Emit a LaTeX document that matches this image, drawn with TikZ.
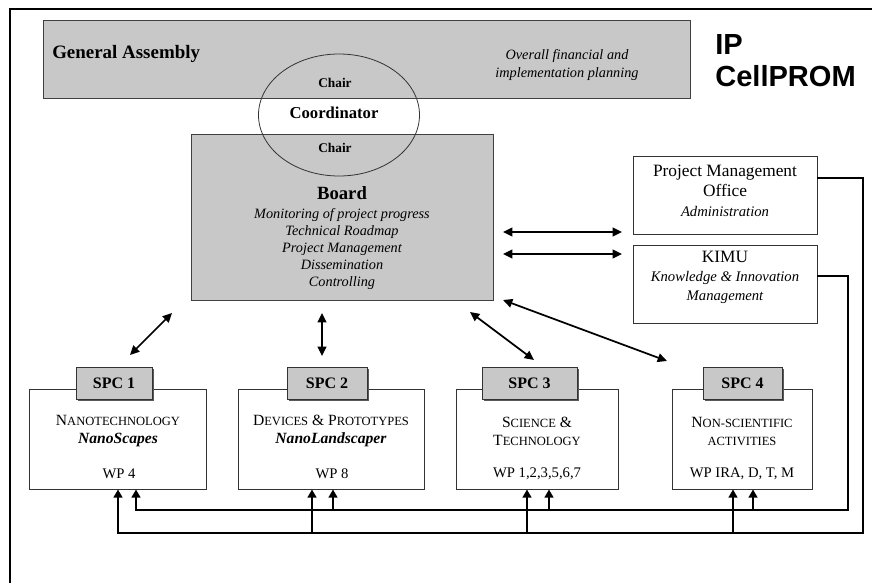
\documentclass[tikz,border=0pt]{standalone}
\usepackage{fontspec}
\setmainfont{Liberation Serif}
\newfontfamily\arialfont{Liberation Sans}
\usetikzlibrary{arrows.meta,shapes.geometric,fit,shadows}
\definecolor{boxgray}{RGB}{200,200,200}
\newcommand{\mysc}[2]{#1{\fontsize{9.4}{11}\selectfont\MakeUppercase{#2}}}
\begin{document}
\begin{tikzpicture}[x=0.75pt,y=-0.75pt,
  graybox/.style={draw=black!75,fill=boxgray,line width=0.75pt,inner sep=0pt},
  whitebox/.style={draw=black!80,fill=white,line width=0.75pt,inner sep=0pt},
  hdrbox/.style={draw=black!80,fill=boxgray,line width=0.75pt,inner sep=0pt,
    drop shadow={shadow xshift=1.6pt,shadow yshift=-1.6pt,fill=black!65,opacity=1}},
  hdrtxt/.style={font=\fontsize{12}{14}\selectfont\bfseries,inner sep=0pt},
  spctxt/.style={align=center,inner sep=0pt,font=\fontsize{11.7}{13.5}\selectfont},
  wptxt/.style={inner sep=0pt,font=\fontsize{11}{13}\selectfont},
  dbl/.style={line width=1.3pt,{Triangle[length=7pt,width=6.5pt]}-{Triangle[length=7pt,width=6.5pt]}},
  conn/.style={line width=1.5pt},
  uparr/.style={line width=1.5pt,-{Triangle[length=6pt,width=6.5pt]}},
  frameline/.style={line width=1.5pt}
]
\useasboundingbox (0,0) rectangle (872,583);
% frame
\draw[frameline] (872,9) -- (10,9) -- (10,583);

% General Assembly
\node[graybox, fit={(43,20)(690,98)}] (ga) {};
\node[anchor=west,inner sep=0pt,font=\fontsize{14.2}{16}\selectfont\bfseries] (gatitle) at (52,54) {General Assembly};
\node[align=center,inner sep=0pt,font=\fontsize{10.7}{13.5}\selectfont\itshape] (gaplan) at (567,65) {Overall financial and\\implementation planning};

% IP CellPROM
\node[anchor=west,align=left,inner sep=0pt,font=\arialfont\bfseries\fontsize{21.8}{24}\selectfont] (ip) at (715,61) {IP\\CellPROM};

% Board
\node[graybox, fit={(191,134)(493,300)}] (board) {};
\node[align=center,inner sep=0pt,font=\fontsize{10.7}{12.75}\selectfont\itshape] (boardtxt) at (342,238)
  {{\upshape\bfseries\fontsize{14}{17}\selectfont Board}\\[1pt]
   Monitoring of project progress\\Technical Roadmap\\Project Management\\Dissemination\\Controlling};

% Coordinator ellipse
\node[draw=black!80,line width=0.6pt,ellipse,inner sep=0pt,minimum width=161*0.75pt,minimum height=122*0.75pt] (coordell) at (339,115) {};
\node[inner sep=0pt,font=\fontsize{10}{12}\selectfont\bfseries] (chair1) at (335,83) {Chair};
\node[inner sep=0pt,font=\fontsize{12.5}{14}\selectfont\bfseries] (coordtxt) at (334,113) {Coordinator};
\node[inner sep=0pt,font=\fontsize{10}{12}\selectfont\bfseries] (chair2) at (335,148) {Chair};

% PMO and KIMU
\node[whitebox, fit={(633,156)(817,234)}] (pmo) {};
\node[align=center,inner sep=0pt,font=\fontsize{13}{14.8}\selectfont] (pmotxt) at (725,191)
  {Project Management\\Office\\{\itshape\fontsize{11}{13}\selectfont Administration}};
\node[whitebox, fit={(633,245)(817,323)}] (kimu) {};
\node[align=center,inner sep=0pt,font=\fontsize{11}{14.2}\selectfont\itshape] (kimutxt) at (725,277)
  {{\upshape\fontsize{13}{14}\selectfont KIMU}\\Knowledge \& Innovation\\Management};

% SPC boxes
\node[whitebox, fit={(29,389)(206,489)}] (b1) {};
\node[whitebox, fit={(238,389)(424,489)}] (b2) {};
\node[whitebox, fit={(456,389)(618,489)}] (b3) {};
\node[whitebox, fit={(672,389)(812,489)}] (b4) {};
\node[hdrbox, fit={(76,367)(152,399)}] (h1) {};
\node[hdrbox, fit={(287,367)(367,399)}] (h2) {};
\node[hdrbox, fit={(482,367)(577,399)}] (h3) {};
\node[hdrbox, fit={(703,367)(782,399)}] (h4) {};
\node[hdrtxt] (h1t) at (h1.center) {SPC 1};
\node[hdrtxt] (h2t) at (h2.center) {SPC 2};
\node[hdrtxt] (h3t) at (h3.center) {SPC 3};
\node[hdrtxt] (h4t) at (h4.center) {SPC 4};

\node[spctxt] (s1) at (118,431) {\mysc{N}{anotechnology}\\\textbf{\textit{NanoScapes}}};
\node[spctxt] (s2) at (331,431) {\mysc{D}{evices} \& \mysc{P}{rototypes}\\\textbf{\textit{NanoLandscaper}}};
\node[spctxt] (s3) at (537,431) {\mysc{S}{cience} \&\\\mysc{T}{echnology}};
\node[spctxt] (s4) at (742,431) {\mysc{N}{on-scientific}\\\mysc{}{activities}};
\node[wptxt] (w1) at (119,474) {WP 4};
\node[wptxt] (w2) at (332,474) {WP 8};
\node[wptxt] (w3) at (537,474) {WP 1,2,3,5,6,7};
\node[wptxt] (w4) at (742,474) {WP IRA, D, T, M};

% arrows between board and PMO/KIMU
\coordinate (a1s) at (503,232); \coordinate (a1e) at (622,232);
\coordinate (a2s) at (503,254); \coordinate (a2e) at (622,254);
\draw[dbl] (a1s) -- (a1e);
\draw[dbl] (a2s) -- (a2e);

% arrows between board and SPCs
\coordinate (d1s) at (172,313); \coordinate (d1e) at (130,355);
\coordinate (d2s) at (322,313); \coordinate (d2e) at (322,356);
\coordinate (d3s) at (470,312); \coordinate (d3e) at (534,360);
\coordinate (d4s) at (503,300); \coordinate (d4e) at (667,361);
\draw[dbl] (d1s) -- (d1e);
\draw[dbl] (d2s) -- (d2e);
\draw[dbl] (d3s) -- (d3e);
\draw[dbl] (d4s) -- (d4e);

% feedback lines
\coordinate (p0) at (817,178); \coordinate (pc) at (863,533);
\coordinate (k0) at (817,276); \coordinate (kc) at (848,510);
\coordinate (x1o) at (118,0); \coordinate (x1i) at (136,0);
\coordinate (x2o) at (312,0); \coordinate (x2i) at (333,0);
\coordinate (x3o) at (527,0); \coordinate (x3i) at (549,0);
\coordinate (x4o) at (733,0); \coordinate (x4i) at (753,0);
\draw[uparr] (p0) -| (pc) -| (x1o |- b1.south);
\draw[uparr] (x2o |- pc) -- (x2o |- b2.south);
\draw[uparr] (x3o |- pc) -- (x3o |- b3.south);
\draw[uparr] (x4o |- pc) -- (x4o |- b4.south);
\draw[uparr] (k0) -| (kc) -| (x1i |- b1.south);
\draw[uparr] (x2i |- kc) -- (x2i |- b2.south);
\draw[uparr] (x3i |- kc) -- (x3i |- b3.south);
\draw[uparr] (x4i |- kc) -- (x4i |- b4.south);
\end{tikzpicture}
\end{document}
